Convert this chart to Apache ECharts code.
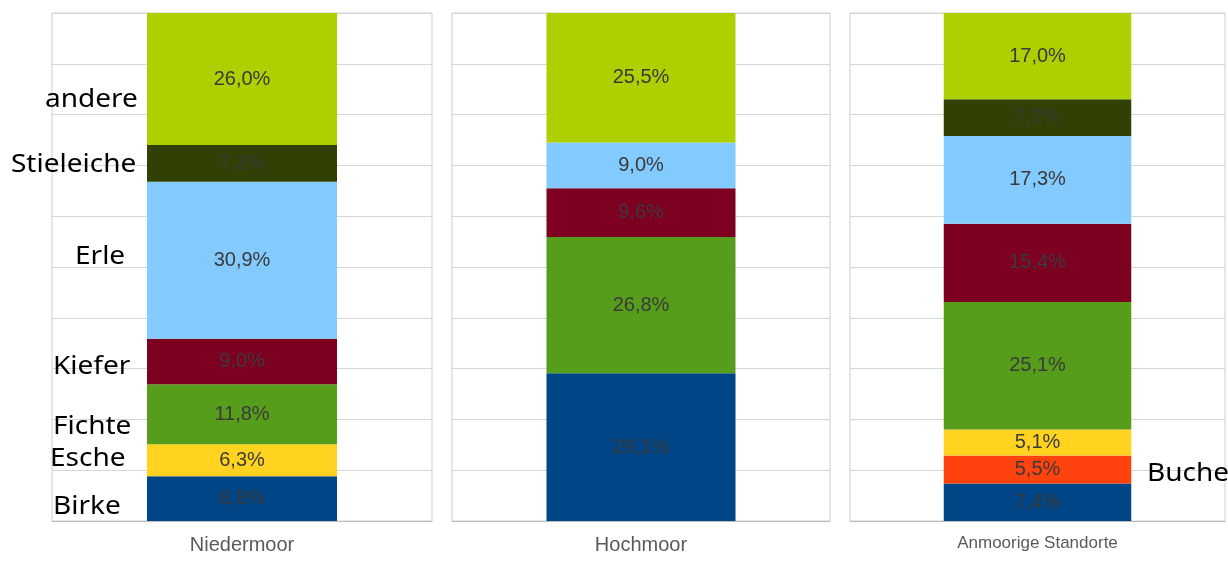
<!DOCTYPE html>
<html>
<head>
<meta charset="utf-8">
<script src="https://cdn.jsdelivr.net/npm/echarts@6/dist/echarts.min.js"></script>
<style>
  html, body { margin: 0; padding: 0; background: #ffffff; }
  #chart { width: 1228px; height: 563px; }
</style>
</head>
<body>
<div id="chart"></div>
<script>
// Standorte (one panel each)
const standorte = ['Niedermoor', 'Hochmoor', 'Anmoorige Standorte'];

// Baumarten-Anteile in % je Standort (bottom to top of each stack)
const birke      = [8.8, 29.1, 7.4];
const buche      = [null, null, 5.5];
const esche      = [6.3, null, 5.1];
const fichte     = [11.8, 26.8, 25.1];
const kiefer     = [9.0, 9.6, 15.4];
const erle       = [30.9, 9.0, 17.3];
const stieleiche = [7.2, null, 7.2];
const andere     = [26.0, 25.5, 17.0];

const arten = [
  { name: 'Birke', values: birke, color: '#004586' },
  { name: 'Buche', values: buche, color: '#ff420e' },
  { name: 'Esche', values: esche, color: '#ffd320' },
  { name: 'Fichte', values: fichte, color: '#579d1c' },
  { name: 'Kiefer', values: kiefer, color: '#7e0021' },
  { name: 'Erle', values: erle, color: '#83caff' },
  { name: 'Stieleiche', values: stieleiche, color: '#314004' },
  { name: 'andere', values: andere, color: '#aecf00' }
];

// Species names written beside the stacks
const artLabels = [
  { text: 'andere', x: 45, y: 100 },
  { text: 'Stieleiche', x: 11, y: 165 },
  { text: 'Erle', x: 75, y: 257 },
  { text: 'Kiefer', x: 53, y: 367 },
  { text: 'Fichte', x: 53, y: 427 },
  { text: 'Esche', x: 50, y: 459 },
  { text: 'Birke', x: 53, y: 507 },
  { text: 'Buche', x: 1147, y: 474 }
];

const panels = [
  { left: 52, width: 380, catSize: 20 },
  { left: 452, width: 378, catSize: 20 },
  { left: 850, width: 375, catSize: 17 }
];

const grids = panels.map(p => ({
  left: p.left, width: p.width, top: 13, height: 508,
  show: true, borderColor: '#cfcfcf', borderWidth: 1, backgroundColor: 'transparent'
}));

const xAxes = panels.map((p, i) => ({
  type: 'category', gridIndex: i, data: [standorte[i]],
  axisLine: { show: true, lineStyle: { color: '#bdbdbd' } },
  axisTick: { show: false },
  axisLabel: { color: '#5a5a5a', fontSize: p.catSize, fontFamily: 'Liberation Sans', margin: 14 }
}));

const yAxes = panels.map((p, i) => ({
  type: 'value', gridIndex: i, min: 0, max: 100, interval: 10,
  axisLabel: { show: false }, axisLine: { show: false }, axisTick: { show: false },
  splitLine: { show: true, lineStyle: { color: '#d6d6d6', width: 1 } }
}));

const fmt = v => v.toFixed(1).replace('.', ',') + '%';

const series = [];
panels.forEach((p, i) => {
  arten.forEach(a => {
    const v = a.values[i];
    if (v === null) return;
    series.push({
      name: a.name, type: 'bar', stack: 'p' + i,
      xAxisIndex: i, yAxisIndex: i, barWidth: '50%',
      data: [v],
      itemStyle: { color: a.color },
      label: {
        show: true, position: 'inside', formatter: d => fmt(d.value),
        color: '#3a3a3a', fontSize: 20, fontFamily: 'Liberation Sans'
      },
      emphasis: { disabled: true }
    });
  });
});

const graphic = artLabels.map(l => ({
  type: 'text', x: l.x, y: l.y, scaleX: 1.12,
  style: {
    text: l.text, fill: '#000', font: '25px "Noto Sans"',
    textAlign: 'left', textVerticalAlign: 'middle'
  },
  z: 100
}));

const chart = echarts.init(document.getElementById('chart'));
chart.setOption({
  animation: false,
  backgroundColor: '#ffffff',
  grid: grids, xAxis: xAxes, yAxis: yAxes,
  series: series,
  graphic: graphic
});
</script>
</body>
</html>
